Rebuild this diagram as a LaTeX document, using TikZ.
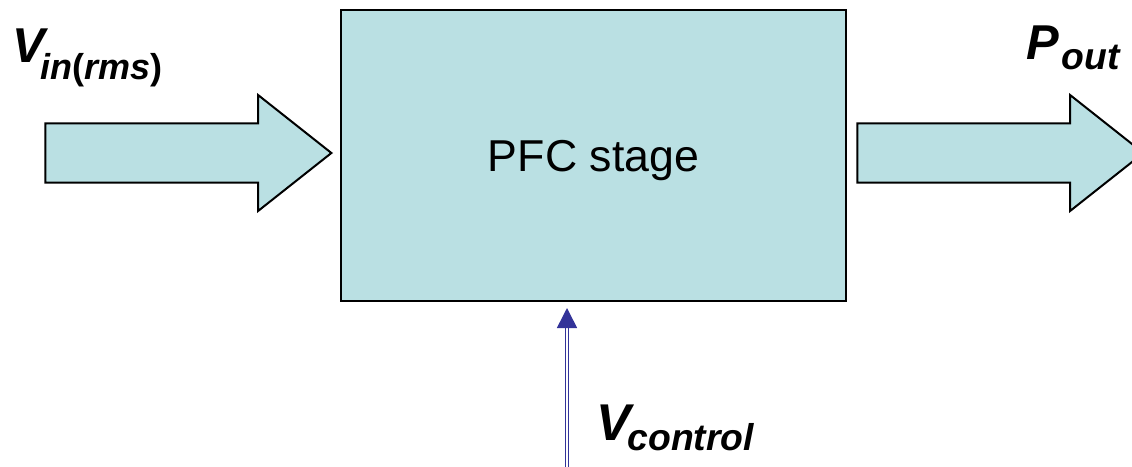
\documentclass[tikz,border=0pt]{standalone}
\usepackage{fontspec}
\setmainfont{Liberation Sans}
\usetikzlibrary{shapes.arrows,arrows.meta}
\definecolor{boxfill}{RGB}{186,224,227}
\definecolor{ctrlblue}{RGB}{51,51,153}
\tikzset{
  blockbox/.style={draw=black, fill=boxfill, line width=1.5pt, rectangle, inner sep=0pt,
    minimum width=505*0.75pt, minimum height=291*0.75pt, text depth=0pt,
    font=\fontsize{33.5pt}{38pt}\selectfont},
  bigarrow/.style={draw=black, fill=boxfill, line width=1.5pt, single arrow,
    inner xsep=0pt, inner ysep=28.5*0.75pt, minimum height=286*0.75pt,
    single arrow head extend=28.5*0.75pt, single arrow tip angle=76.7, anchor=tip},
  lbl/.style={anchor=base west, inner sep=0pt},
  ctrl/.style={draw=ctrlblue, line width=1.15pt, double=white, double distance=1.2pt,
    -{Triangle[width=15pt,length=15pt,fill=ctrlblue]}, shorten >=4.5pt}
}
\newcommand{\bi}[1]{\bfseries\itshape #1}
\begin{document}
\begin{tikzpicture}[x=0.75pt,y=-0.75pt]
\useasboundingbox (0,0) rectangle (1132,467);
\clip (0,0) rectangle (1132,467);
\node[blockbox] (pfc) at (593.5,155.5) {PFC stage};
\node[bigarrow] (ain) at (333,153) {};
\node[bigarrow] (aout) at (1145,153) {};
\coordinate (cb) at (567,470);
\draw[ctrl] (cb) -- (cb |- pfc.south);
\node[lbl] (vin) at (12,63) {{\fontsize{36.7pt}{40pt}\selectfont\bi{V}}\kern-3.5pt\raisebox{-12.75pt}{\fontsize{27pt}{29pt}\selectfont\bi{in{\upshape(}rms{\upshape)}}}};
\node[lbl] (pout) at (1026,60) {{\fontsize{36.7pt}{40pt}\selectfont\bi{P}}\kern2pt\raisebox{-7.5pt}{\fontsize{28pt}{30pt}\selectfont\bi{out}}};
\node[lbl] (vctl) at (596,440) {{\fontsize{38.8pt}{42pt}\selectfont\bi{V}}\kern-2.5pt\raisebox{-7.5pt}{\fontsize{28pt}{30pt}\selectfont\bi{control}}};
\end{tikzpicture}
\end{document}
